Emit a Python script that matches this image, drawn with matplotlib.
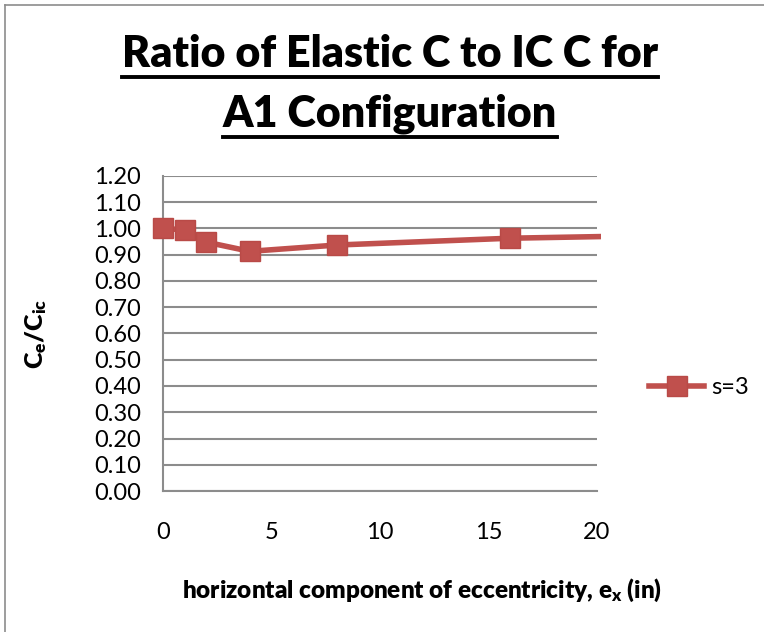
import matplotlib
matplotlib.use("Agg")
import matplotlib.pyplot as plt
from matplotlib.lines import Line2D
from matplotlib.patches import Rectangle

ex = [0, 1, 2, 4, 8, 16, 24]
ratio_s3 = [1.00, 0.995, 0.948, 0.913, 0.937, 0.963, 0.975]
series_label = "s=3"
yticks = [0.0, 0.1, 0.2, 0.3, 0.4, 0.5, 0.6, 0.7, 0.8, 0.9, 1.0, 1.1, 1.2]
xticks = [0, 5, 10, 15, 20]

plt.rcParams['font.family'] = ['Lato', 'DejaVu Sans']
plt.rcParams['mathtext.default'] = 'regular'

W, H = 764, 632
fig = plt.figure(figsize=(W / 100, H / 100), dpi=100)

def fx(px):
    return px / W

def fy(py):
    return 1 - py / H

ax = fig.add_axes([fx(163), fy(491), fx(597) - fx(163), fy(176) - fy(491)])
color = '#C0504D'
ax.plot(ex, ratio_s3, color=color, lw=4, marker='s', ms=14,
        markerfacecolor=color, markeredgecolor='#B94A47', markeredgewidth=1,
        label=series_label, zorder=3)
ax.set_xlim(0, 20)
ax.set_ylim(0, 1.2)

clip = Rectangle((-1, -0.2), 21.17, 1.6, transform=ax.transData, visible=False)
ax.add_patch(clip)
for m in ax.lines:
    m.set_clip_on(True)
    m.set_clip_path(clip)

ax.set_xticks(xticks)
ax.set_yticks(yticks)
ax.set_yticklabels([f"{v:.2f}" for v in yticks])
ax.tick_params(length=0, labelsize=17)
ax.tick_params(axis='y', pad=16)
ax.tick_params(axis='x', pad=22)
ax.grid(axis='y', color='#8c8c8c', lw=1.5)
ax.grid(axis='x', visible=False)
ax.set_axisbelow(True)
for side in ['top', 'right']:
    ax.spines[side].set_visible(False)
for side in ['left', 'bottom']:
    ax.spines[side].set_color('#8c8c8c')
    ax.spines[side].set_linewidth(1.5)

fig.text(fx(422), fy(590), r"horizontal component of eccentricity, e$_\mathregular{x}$ (in)",
         ha='center', va='center', fontsize=17.5, fontweight='heavy')
ax.set_ylabel(r"C$_\mathregular{e}$/C$_\mathregular{ic}$", fontsize=18,
              fontweight='heavy', labelpad=32)

axw = fx(597) - fx(163)
axh = fy(176) - fy(491)
leg = ax.legend(loc='center left',
                bbox_to_anchor=((fx(640) - fx(163)) / axw, (fy(388) - fy(491)) / axh),
                frameon=False, fontsize=17, handlelength=2.3, borderaxespad=0,
                handletextpad=0.3)

title_lines = ["Ratio of Elastic C to IC C for", "A1 Configuration"]
title_base = [67, 127]
texts = []
for t, y in zip(title_lines, title_base):
    texts.append(fig.text(fx(390), fy(y), t, ha='center', va='baseline',
                          fontsize=31, fontweight='heavy'))

fig.canvas.draw()
r = fig.canvas.get_renderer()
for t, y in zip(texts, title_base):
    bb = t.get_window_extent(renderer=r)
    fig.add_artist(Line2D([bb.x0 / W, bb.x1 / W], [fy(y + 10), fy(y + 10)],
                          color='black', lw=2.8, transform=fig.transFigure))

fig.add_artist(Line2D([fx(4.5), fx(4.5)], [fy(632), fy(5)], color='#8c8c8c',
                      lw=1.2, transform=fig.transFigure))
fig.add_artist(Line2D([fx(4.5), 1], [fy(5), fy(5)], color='#8c8c8c',
                      lw=1.2, transform=fig.transFigure))

fig.savefig("out.png", dpi=100)
